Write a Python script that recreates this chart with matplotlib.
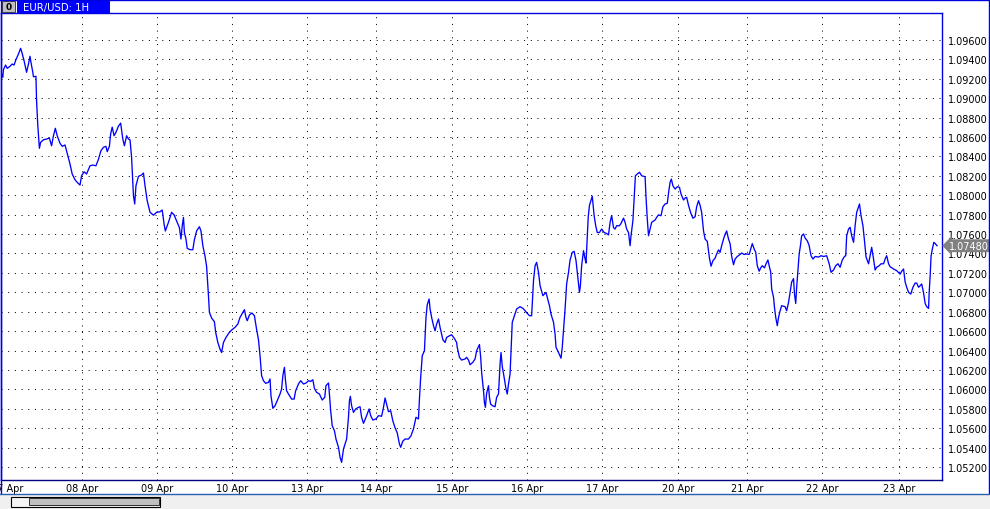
import matplotlib
matplotlib.use('Agg')
import matplotlib.pyplot as plt
from matplotlib.patches import Rectangle
from matplotlib.lines import Line2D
import matplotlib.transforms as mtransforms

plt.rcParams['font.family'] = ['DejaVu Sans']

symbol_title = "EUR/USD: 1H"

# hours since the left edge of the chart (1H bars)
hours = [
    0.2, 0.9, 1.1, 1.8, 2.3, 3.2, 3.9, 4.5, 5.1, 5.9,
    6.6, 7.0, 7.7, 8.5, 9.1, 9.6, 9.9, 10.5, 10.7, 11.5,
    11.7, 12.1, 12.6, 13.0, 13.9, 14.9, 15.8, 16.5, 17.1, 17.7,
    18.3, 19.2, 19.9, 20.8, 21.7, 22.4, 23.1, 24.0, 24.7, 25.6,
    26.1, 26.9, 27.7, 28.8, 29.7, 30.7, 31.5, 32.3, 33.1, 33.9,
    34.3, 35.0, 35.4, 35.9, 36.5, 37.1, 37.9, 38.6, 39.3, 39.8,
    40.5, 41.1, 41.6, 42.1, 42.7, 43.1, 43.5, 44.3, 45.3, 45.9,
    46.4, 47.1, 48.0, 49.1, 50.1, 51.2, 51.9, 52.5, 52.9, 53.9,
    54.9, 55.7, 56.5, 57.4, 57.9, 58.3, 58.7, 59.0, 59.5, 59.9,
    60.8, 61.7, 62.2, 62.9, 63.8, 64.3, 64.9, 65.6, 66.1, 66.7,
    67.0, 67.7, 68.6, 69.0, 69.7, 70.4, 70.9, 71.5, 72.3, 73.2,
    74.1, 75.2, 76.1, 76.8, 77.7, 78.2, 78.7, 79.1, 79.8, 80.6,
    81.4, 82.1, 82.7, 83.2, 83.7, 84.3, 85.0, 85.9, 86.4, 86.7,
    87.3, 88.0, 88.7, 89.6, 90.1, 90.5, 91.0, 91.3, 91.7, 92.3,
    93.3, 94.1, 94.6, 95.5, 96.2, 97.1, 97.9, 98.7, 99.4, 100.1,
    100.6, 101.3, 102.2, 103.1, 103.9, 104.3, 105.1, 105.4, 105.8, 106.3,
    107.0, 107.5, 108.3, 108.8, 109.3, 109.9, 110.4, 110.9, 111.5, 111.8,
    112.1, 112.5, 113.1, 113.8, 114.7, 115.2, 115.7, 116.3, 117.1, 118.1,
    118.6, 119.3, 120.3, 121.1, 122.1, 122.7, 123.2, 123.7, 124.3, 125.0,
    125.7, 126.4, 127.1, 127.8, 128.2, 128.9, 129.6, 130.7, 131.5, 132.3,
    133.1, 133.9, 134.2, 134.6, 135.1, 135.8, 136.3, 136.7, 137.3, 137.6,
    138.1, 138.7, 139.2, 139.7, 140.3, 140.8, 141.7, 142.4, 142.9, 143.8,
    144.5, 145.3, 146.1, 146.3, 147.0, 147.7, 148.8, 149.3, 149.9, 150.4,
    151.3, 152.0, 152.5, 153.1, 153.4, 153.8, 154.1, 154.7, 155.0, 155.3,
    155.7, 156.3, 156.6, 157.0, 157.7, 158.4, 158.9, 159.5, 160.0, 160.3,
    160.7, 161.3, 161.9, 162.3, 162.7, 163.2, 163.5, 163.9, 164.6, 165.3,
    166.4, 167.3, 168.0, 168.7, 169.4, 170.1, 170.7, 171.2, 171.7, 172.3,
    172.8, 173.7, 174.2, 174.7, 175.1, 175.8, 176.3, 177.1, 177.6, 177.9,
    178.7, 179.5, 179.9, 180.3, 180.8, 181.3, 181.9, 182.4, 183.1, 183.7,
    184.3, 184.9, 185.4, 185.7, 186.1, 186.7, 187.2, 187.5, 187.8, 188.2,
    188.6, 189.5, 190.1, 190.6, 191.1, 191.8, 192.5, 193.3, 194.1, 194.7,
    195.2, 195.7, 196.3, 196.8, 197.3, 198.2, 198.7, 199.5, 200.0, 200.5,
    201.1, 201.6, 201.9, 202.5, 202.9, 203.3, 203.9, 204.6, 205.3, 206.4,
    206.7, 207.1, 207.5, 208.0, 208.5, 209.6, 210.1, 210.7, 211.5, 212.1,
    212.8, 213.5, 214.0, 214.4, 214.8, 215.3, 216.0, 216.7, 217.4, 217.9,
    218.7, 219.2, 219.7, 220.3, 221.0, 221.7, 222.4, 222.9, 223.5, 224.0,
    224.5, 225.1, 225.6, 226.3, 227.0, 227.5, 228.1, 228.8, 229.3, 229.9,
    230.4, 230.9, 231.5, 232.0, 232.5, 233.1, 233.6, 234.1, 234.7, 235.2,
    235.9, 236.8, 237.3, 238.1, 238.9, 239.7, 240.2, 240.7, 241.3, 241.8,
    242.3, 242.9, 243.4, 243.9, 244.6, 245.1, 245.7, 246.1, 246.6, 246.9,
    247.5, 247.8, 248.2, 248.7, 249.1, 249.6, 250.1, 251.2, 251.7, 252.3,
    252.8, 253.3, 253.9, 254.2, 254.6, 254.9, 255.3, 255.7, 256.1, 256.5,
    257.1, 257.6, 258.3, 258.9, 259.5, 260.1, 260.8, 261.9, 262.7, 263.5,
    264.5, 265.3, 265.9, 266.7, 267.4, 268.1, 268.8, 269.5, 270.2, 270.6,
    270.9, 271.5, 272.0, 272.5, 273.1, 273.6, 274.1, 274.7, 275.0, 275.5,
    276.1, 276.6, 277.1, 277.9, 278.4, 278.9, 279.4, 280.0, 280.5, 281.3,
    281.9, 282.7, 283.2, 283.7, 284.3, 284.8, 285.9, 286.9, 288.0, 288.5,
    289.1, 289.6, 290.1, 290.7, 291.4, 292.1, 292.8, 293.3, 293.9, 294.4,
    294.9, 295.5, 296.0, 296.5, 297.1, 297.3, 297.6, 297.9, 298.3, 298.8,
    299.2, 299.8,
]

prices = [
    1.09283, 1.09215, 1.09294, 1.09342, 1.09308, 1.09329, 1.09352, 1.09342, 1.09397, 1.09455,
    1.09514, 1.09473, 1.09386, 1.09267, 1.09352, 1.09432, 1.09370, 1.09267, 1.09221, 1.09226,
    1.08974, 1.08717, 1.08484, 1.08545, 1.08572, 1.08579, 1.08590, 1.08510, 1.08613, 1.08690,
    1.08613, 1.08536, 1.08504, 1.08518, 1.08407, 1.08322, 1.08219, 1.08160, 1.08133, 1.08105,
    1.08201, 1.08242, 1.08219, 1.08304, 1.08311, 1.08304, 1.08371, 1.08459, 1.08494, 1.08504,
    1.08449, 1.08504, 1.08631, 1.08702, 1.08613, 1.08649, 1.08712, 1.08743, 1.08579, 1.08510,
    1.08613, 1.08579, 1.08572, 1.08391, 1.07995, 1.07910, 1.08098, 1.08195, 1.08209, 1.08229,
    1.08098, 1.07944, 1.07824, 1.07795, 1.07824, 1.07830, 1.07848, 1.07702, 1.07632, 1.07721,
    1.07824, 1.07798, 1.07736, 1.07666, 1.07549, 1.07683, 1.07772, 1.07616, 1.07549, 1.07453,
    1.07439, 1.07439, 1.07542, 1.07632, 1.07676, 1.07632, 1.07480, 1.07372, 1.07269, 1.06965,
    1.06794, 1.06735, 1.06697, 1.06588, 1.06483, 1.06414, 1.06380, 1.06483, 1.06535, 1.06579,
    1.06611, 1.06639, 1.06673, 1.06742, 1.06794, 1.06821, 1.06742, 1.06707, 1.06766, 1.06787,
    1.06759, 1.06619, 1.06512, 1.06347, 1.06141, 1.06089, 1.06062, 1.06072, 1.06107, 1.05934,
    1.05805, 1.05831, 1.05883, 1.05952, 1.06003, 1.06141, 1.06227, 1.06107, 1.05986, 1.05952,
    1.05900, 1.05900, 1.05986, 1.06055, 1.06089, 1.06055, 1.06065, 1.06089, 1.06082, 1.06099,
    1.06010, 1.05969, 1.05952, 1.05890, 1.05918, 1.06038, 1.06065, 1.05952, 1.05780, 1.05625,
    1.05574, 1.05488, 1.05403, 1.05300, 1.05248, 1.05385, 1.05437, 1.05488, 1.05712, 1.05883,
    1.05928, 1.05831, 1.05763, 1.05798, 1.05815, 1.05821, 1.05712, 1.05650, 1.05712, 1.05798,
    1.05729, 1.05684, 1.05695, 1.05729, 1.05723, 1.05815, 1.05911, 1.05847, 1.05770, 1.05780,
    1.05674, 1.05604, 1.05551, 1.05437, 1.05403, 1.05467, 1.05488, 1.05488, 1.05522, 1.05593,
    1.05712, 1.05695, 1.05900, 1.06124, 1.06347, 1.06398, 1.06742, 1.06872, 1.06931, 1.06828,
    1.06742, 1.06656, 1.06603, 1.06673, 1.06725, 1.06639, 1.06512, 1.06483, 1.06535, 1.06552,
    1.06562, 1.06529, 1.06483, 1.06433, 1.06330, 1.06302, 1.06313, 1.06330, 1.06302, 1.06254,
    1.06279, 1.06313, 1.06398, 1.06441, 1.06462, 1.06330, 1.06175, 1.05986, 1.05863, 1.05815,
    1.05959, 1.06038, 1.05918, 1.05847, 1.05829, 1.05821, 1.05918, 1.05952, 1.06262, 1.06380,
    1.06237, 1.06124, 1.06003, 1.05952, 1.06055, 1.06158, 1.06380, 1.06691, 1.06759, 1.06828,
    1.06852, 1.06835, 1.06810, 1.06783, 1.06759, 1.06759, 1.07120, 1.07274, 1.07309, 1.07206,
    1.07068, 1.06965, 1.06982, 1.07000, 1.06948, 1.06862, 1.06776, 1.06691, 1.06568, 1.06433,
    1.06380, 1.06321, 1.06433, 1.06604, 1.06828, 1.07086, 1.07206, 1.07333, 1.07412, 1.07422,
    1.07326, 1.07146, 1.07000, 1.07068, 1.07274, 1.07429, 1.07343, 1.07301, 1.07502, 1.07772,
    1.07896, 1.07990, 1.07789, 1.07686, 1.07616, 1.07616, 1.07652, 1.07616, 1.07606, 1.07591,
    1.07721, 1.07791, 1.07666, 1.07652, 1.07686, 1.07686, 1.07710, 1.07764, 1.07721, 1.07652,
    1.07616, 1.07480, 1.07583, 1.07736, 1.07979, 1.08201, 1.08219, 1.08237, 1.08201, 1.08191,
    1.07979, 1.07755, 1.07583, 1.07652, 1.07721, 1.07745, 1.07772, 1.07798, 1.07789, 1.07881,
    1.07910, 1.07917, 1.08047, 1.08133, 1.08167, 1.08098, 1.08064, 1.08088, 1.08082, 1.08013,
    1.07951, 1.07972, 1.07979, 1.07896, 1.07818, 1.07764, 1.07778, 1.07881, 1.07944, 1.07896,
    1.07824, 1.07632, 1.07549, 1.07525, 1.07351, 1.07269, 1.07326, 1.07352, 1.07395, 1.07437,
    1.07412, 1.07480, 1.07549, 1.07598, 1.07632, 1.07549, 1.07502, 1.07372, 1.07284, 1.07343,
    1.07369, 1.07390, 1.07405, 1.07390, 1.07395, 1.07390, 1.07446, 1.07502, 1.07446, 1.07412,
    1.07274, 1.07217, 1.07252, 1.07274, 1.07252, 1.07294, 1.07333, 1.07274, 1.07206, 1.07034,
    1.06948, 1.06845, 1.06742, 1.06656, 1.06742, 1.06810, 1.06862, 1.06852, 1.06810, 1.06896,
    1.07000, 1.07106, 1.07141, 1.06982, 1.06885, 1.07052, 1.07226, 1.07395, 1.07480, 1.07583,
    1.07601, 1.07559, 1.07531, 1.07480, 1.07377, 1.07343, 1.07369, 1.07363, 1.07377, 1.07369,
    1.07377, 1.07294, 1.07206, 1.07230, 1.07274, 1.07294, 1.07258, 1.07333, 1.07369, 1.07377,
    1.07583, 1.07652, 1.07670, 1.07583, 1.07515, 1.07686, 1.07824, 1.07881, 1.07910, 1.07789,
    1.07686, 1.07531, 1.07363, 1.07294, 1.07377, 1.07464, 1.07363, 1.07230, 1.07258, 1.07274,
    1.07294, 1.07294, 1.07343, 1.07377, 1.07294, 1.07264, 1.07240, 1.07223, 1.07187, 1.07217,
    1.07240, 1.07107, 1.07052, 1.07000, 1.06982, 1.07052, 1.07095, 1.07095, 1.07052, 1.07068,
    1.07086, 1.06994, 1.06887, 1.06852, 1.06834, 1.07000, 1.07163, 1.07372, 1.07446, 1.07515,
    1.07503, 1.07480,
]

day_positions = [2.2, 26.2, 50.2, 74.2, 98.2, 120.3, 144.6, 168.6, 192.6, 217.0, 239.0, 263.0, 287.7]
day_labels = ['07 Apr', '08 Apr', '09 Apr', '10 Apr', '13 Apr', '14 Apr', '15 Apr',
              '16 Apr', '17 Apr', '20 Apr', '21 Apr', '22 Apr', '23 Apr']

price_ticks = [1.052, 1.054, 1.056, 1.058, 1.060, 1.062, 1.064, 1.066, 1.068, 1.070, 1.072, 1.074,
               1.076, 1.078, 1.080, 1.082, 1.084, 1.086, 1.088, 1.090, 1.092, 1.094, 1.096]

W, H = 990, 510
fig = plt.figure(figsize=(W / 100, H / 100), dpi=100)
fig.patch.set_facecolor('white')


def fx(x):
    return x / W


def fy(y):
    return 1 - y / H


FS = 7.0
ax = fig.add_axes([fx(1), fy(481), fx(942) - fx(1), fy(14) - fy(481)])
ax.set_facecolor('white')

grid_kw = dict(color='black', linestyle=(0, (1, 5.7)), lw=0.72, zorder=1)
for yv in price_ticks:
    ax.axhline(yv, **grid_kw)
for d in day_positions[1:]:
    ax.axvline(d, **grid_kw)

ax.plot(hours, prices, color='#0000ff', lw=0.95, zorder=3)

ax.set_xlim(0.32, 301.4)
ax.set_ylim(1.05066, 1.09878)

ax.yaxis.tick_right()
ax.set_yticks(price_ticks)
ax.set_yticklabels([f'{v:.5f}' for v in price_ticks])
ax.tick_params(axis='y', length=0, pad=4.0, labelsize=FS, colors='black')
ax.set_xticks(day_positions)
ax.set_xticklabels(day_labels)
ax.tick_params(axis='x', length=0, pad=2.0, labelsize=FS, colors='black')

for side in ['left', 'top', 'right']:
    ax.spines[side].set_color('#0000e0')
    ax.spines[side].set_linewidth(1.0)
ax.spines['bottom'].set_color('#000080')
ax.spines['bottom'].set_linewidth(1.0)

# current price marker
last = prices[-1]
trans = mtransforms.blended_transform_factory(ax.transAxes, ax.transData)
ax.text(1.0075, last, f'{last:.5f}', transform=trans, ha='left', va='center',
        color='white', fontsize=FS, clip_on=False, zorder=10,
        bbox=dict(boxstyle='larrow,pad=0.15', fc='#808080', ec='none'))

# window decorations
fig.add_artist(Line2D([0, 1], [fy(0.5), fy(0.5)], transform=fig.transFigure, color='#0000e0', lw=1.0))
fig.add_artist(Line2D([fx(988.5), fx(988.5)], [fy(0), fy(494)], transform=fig.transFigure, color='#0000e0', lw=1.0))
fig.add_artist(Line2D([fx(0.5), fx(0.5)], [fy(0), fy(494)], transform=fig.transFigure, color='#0000e0', lw=1.0))
fig.add_artist(Rectangle((fx(17), fy(14)), fx(110) - fx(17), fy(0) - fy(14), transform=fig.transFigure,
                         fc='#0000ff', ec='none'))
fig.add_artist(Rectangle((fx(2), fy(13)), fx(15) - fx(2), fy(2) - fy(13), transform=fig.transFigure,
                         fc='#c0c0c0', ec='#404040', lw=0.7))
fig.text(fx(8.5), fy(7.5), '0', ha='center', va='center', fontsize=6.5, color='black', fontweight='bold')
fig.text(fx(23), fy(7.5), symbol_title, ha='left', va='center', fontsize=FS + 0.3, color='white')

# bottom scrollbar area
fig.add_artist(Rectangle((0, 0), 1, fy(494.5), transform=fig.transFigure, fc='#f0f0f0', ec='none'))
fig.add_artist(Line2D([0, 1], [fy(494.5), fy(494.5)], transform=fig.transFigure, color='#2a5fb0', lw=1.0))
fig.add_artist(Rectangle((fx(10.5), fy(507.5)), fx(160.5) - fx(10.5), fy(497.5) - fy(507.5),
                         transform=fig.transFigure, fc='#f4f4f4', ec='black', lw=0.8))
fig.add_artist(Rectangle((fx(28.5), fy(505.5)), fx(158.5) - fx(28.5), fy(499.5) - fy(505.5),
                         transform=fig.transFigure, fc='#c0c0c0', ec='#303030', lw=0.7))

fig.savefig('out.png', dpi=100)
